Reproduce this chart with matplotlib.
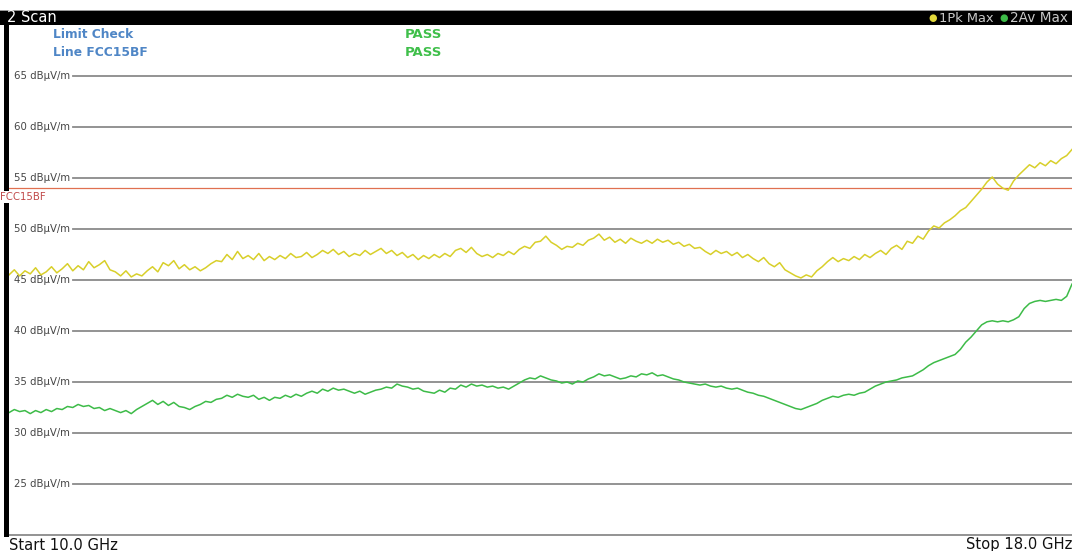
import numpy as np
import matplotlib
matplotlib.use("Agg")
import matplotlib.pyplot as plt
from matplotlib.patches import Rectangle

# ---- data -------------------------------------------------------------
f_start, f_stop = 10.0, 18.0          # GHz
limit_level = 54.0                    # dBµV/m, FCC15BF
y_ticks = [25, 30, 35, 40, 45, 50, 55, 60, 65]
y_tick_labels = [f"{v} dBµV/m" for v in y_ticks]
trace_names = ["1Pk Max", "2Av Max"]
check_rows = ["Limit Check", "Line FCC15BF"]
check_results = ["PASS", "PASS"]

peak_max = [
    45.5, 46.0, 45.4, 45.9, 45.6, 46.2, 45.5, 45.8, 46.3, 45.7,
    46.1, 46.6, 45.9, 46.4, 46.0, 46.8, 46.2, 46.5, 46.9, 46.0,
    45.8, 45.4, 45.9, 45.3, 45.6, 45.4, 45.9, 46.3, 45.8, 46.7,
    46.4, 46.9, 46.1, 46.5, 46.0, 46.3, 45.9, 46.2, 46.6, 46.9,
    46.8, 47.5, 47.0, 47.8, 47.1, 47.4, 47.0, 47.6, 46.9, 47.3,
    47.0, 47.4, 47.1, 47.6, 47.2, 47.3, 47.7, 47.2, 47.5, 47.9,
    47.6, 48.0, 47.5, 47.8, 47.3, 47.6, 47.4, 47.9, 47.5, 47.8,
    48.1, 47.6, 47.9, 47.4, 47.7, 47.2, 47.5, 47.0, 47.4, 47.1,
    47.5, 47.2, 47.6, 47.3, 47.9, 48.1, 47.7, 48.2, 47.6, 47.3,
    47.5, 47.2, 47.6, 47.4, 47.8, 47.5, 48.0, 48.3, 48.1, 48.7,
    48.8, 49.3, 48.7, 48.4, 48.0, 48.3, 48.2, 48.6, 48.4, 48.9,
    49.1, 49.5, 48.9, 49.2, 48.7, 49.0, 48.6, 49.1, 48.8, 48.6,
    48.9, 48.6, 49.0, 48.7, 48.9, 48.5, 48.7, 48.3, 48.5, 48.1,
    48.2, 47.8, 47.5, 47.9, 47.6, 47.8, 47.4, 47.7, 47.2, 47.5,
    47.1, 46.8, 47.2, 46.6, 46.3, 46.7, 46.0, 45.7, 45.4, 45.2,
    45.5, 45.3, 45.9, 46.3, 46.8, 47.2, 46.8, 47.1, 46.9, 47.3,
    47.0, 47.5, 47.2, 47.6, 47.9, 47.5, 48.1, 48.4, 48.0, 48.8,
    48.6, 49.3, 49.0, 49.8, 50.3, 50.1, 50.6, 50.9, 51.3, 51.8,
    52.1, 52.7, 53.3, 53.9, 54.6, 55.1, 54.4, 54.0, 53.8, 54.7,
    55.3, 55.8, 56.3, 56.0, 56.5, 56.2, 56.7, 56.4, 56.9, 57.2, 57.8,
]

avg_max = [
    32.0, 32.3, 32.1, 32.2, 31.9, 32.2, 32.0, 32.3, 32.1, 32.4,
    32.3, 32.6, 32.5, 32.8, 32.6, 32.7, 32.4, 32.5, 32.2, 32.4,
    32.2, 32.0, 32.2, 31.9, 32.3, 32.6, 32.9, 33.2, 32.8, 33.1,
    32.7, 33.0, 32.6, 32.5, 32.3, 32.6, 32.8, 33.1, 33.0, 33.3,
    33.4, 33.7, 33.5, 33.8, 33.6, 33.5, 33.7, 33.3, 33.5, 33.2,
    33.5, 33.4, 33.7, 33.5, 33.8, 33.6, 33.9, 34.1, 33.9, 34.3,
    34.1, 34.4, 34.2, 34.3, 34.1, 33.9, 34.1, 33.8, 34.0, 34.2,
    34.3, 34.5, 34.4, 34.8, 34.6, 34.5, 34.3, 34.4, 34.1, 34.0,
    33.9, 34.2, 34.0, 34.4, 34.3, 34.7, 34.5, 34.8, 34.6, 34.7,
    34.5, 34.6, 34.4, 34.5, 34.3, 34.6, 34.9, 35.2, 35.4, 35.3,
    35.6, 35.4, 35.2, 35.1, 34.9, 35.0, 34.8, 35.1, 35.0, 35.3,
    35.5, 35.8, 35.6, 35.7, 35.5, 35.3, 35.4, 35.6, 35.5, 35.8,
    35.7, 35.9, 35.6, 35.7, 35.5, 35.3, 35.2, 35.0, 34.9, 34.8,
    34.7, 34.8, 34.6, 34.5, 34.6, 34.4, 34.3, 34.4, 34.2, 34.0,
    33.9, 33.7, 33.6, 33.4, 33.2, 33.0, 32.8, 32.6, 32.4, 32.3,
    32.5, 32.7, 32.9, 33.2, 33.4, 33.6, 33.5, 33.7, 33.8, 33.7,
    33.9, 34.0, 34.3, 34.6, 34.8, 35.0, 35.1, 35.2, 35.4, 35.5,
    35.6, 35.9, 36.2, 36.6, 36.9, 37.1, 37.3, 37.5, 37.7, 38.2,
    38.9, 39.4, 40.0, 40.6, 40.9, 41.0, 40.9, 41.0, 40.9, 41.1,
    41.4, 42.2, 42.7, 42.9, 43.0, 42.9, 43.0, 43.1, 43.0, 43.4, 44.6,
]

# ---- figure -----------------------------------------------------------
W, H = 1072, 551
fig = plt.figure(figsize=(W / 100, H / 100), dpi=100, facecolor="white")


def fx(px):
    return px / W


def fy(py):
    return 1 - py / H


ax_left, ax_right, ax_top, ax_bottom = 9, 1072, 25, 535
ax = fig.add_axes([fx(ax_left), fy(ax_bottom),
                   fx(ax_right - ax_left), (ax_bottom - ax_top) / H])
ax.set_xlim(f_start, f_stop)
ax.set_ylim(20, 70)
ax.set_xticks([])
ax.set_yticks([])
for side in ["top", "right", "left"]:
    ax.spines[side].set_visible(False)
ax.spines["bottom"].set_color("#808080")
ax.spines["bottom"].set_linewidth(1.2)

# horizontal grid with level labels
grid_start = 0.06
for v, lab in zip(y_ticks, y_tick_labels):
    ax.axhline(v, xmin=grid_start, xmax=1, color="#8a8a8a", lw=1.3, zorder=1)
    ax.text(0.005, v, lab, transform=ax.get_yaxis_transform(),
            ha="left", va="center", fontsize=7.3, color="#454545", zorder=2)

# limit line
ax.axhline(limit_level, color="#e07050", lw=0.9, zorder=3)
fig.text(fx(0), fy(197), "FCC15BF", ha="left", va="center", fontsize=7.3,
         color="#c04848",
         bbox=dict(facecolor="white", edgecolor="none", pad=0.6), zorder=10)

# traces
freq_pk = np.linspace(f_start, f_stop, len(peak_max))
freq_av = np.linspace(f_start, f_stop, len(avg_max))
ax.plot(freq_pk, peak_max, color="#d8cf2a", lw=1.1, zorder=5)
ax.plot(freq_av, avg_max, color="#3dbb48", lw=1.1, zorder=5)

# left frame bar
fig.patches.append(Rectangle((fx(4), fy(537)), fx(5), (537 - 24) / H,
                             transform=fig.transFigure, facecolor="black",
                             edgecolor="none", zorder=8))

# title bar
fig.patches.append(Rectangle((0, fy(25)), 1, 15 / H, transform=fig.transFigure,
                             facecolor="black", edgecolor="none", zorder=8))
fig.patches.append(Rectangle((0, fy(11)), 1, 1.5 / H, transform=fig.transFigure,
                             facecolor="#9a9a9a", edgecolor="none", zorder=8))
fig.text(fx(7), fy(18), "2 Scan", ha="left", va="center", fontsize=10.5,
         color="white", zorder=11)

# trace legend in title bar
fig.text(fx(933), fy(18), "●", ha="center", va="center",
         fontsize=7, color="#e2d83a", zorder=11)
fig.text(fx(939), fy(18), trace_names[0], ha="left", va="center",
         fontsize=9.4, color="#c8c8c8", zorder=11)
fig.text(fx(1004), fy(18), "●", ha="center", va="center",
         fontsize=7, color="#3dbb48", zorder=11)
fig.text(fx(1010), fy(18), trace_names[1], ha="left", va="center",
         fontsize=9.8, color="#c8c8c8", zorder=11)

# limit check table
for i, (row, res) in enumerate(zip(check_rows, check_results)):
    yy = fy(35 + 17 * i)
    fig.text(fx(53), yy, row, ha="left", va="center", fontsize=8.8,
             fontweight="bold", color="#4f86c6", zorder=11)
    fig.text(fx(405), yy, res, ha="left", va="center", fontsize=9.5,
             fontweight="bold", color="#3fbf4a", zorder=11)

# frequency span labels
fig.text(fx(9), fy(545), f"Start {f_start:.1f} GHz", ha="left", va="center",
         fontsize=10.6, color="#111111")
fig.text(fx(1072), fy(545), f"Stop {f_stop:.1f} GHz", ha="right", va="center",
         fontsize=10.6, color="#111111")

fig.savefig("out.png", dpi=100, facecolor="white")
